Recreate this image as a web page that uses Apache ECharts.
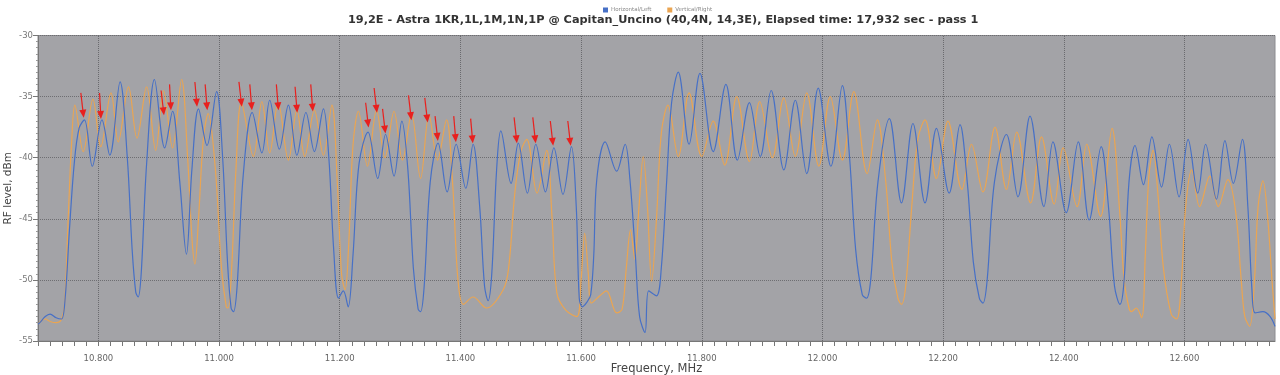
<!DOCTYPE html>
<html>
<head>
<meta charset="utf-8">
<script src="https://cdn.jsdelivr.net/npm/echarts@6/dist/echarts.min.js"></script>
<style>
html,body{margin:0;padding:0;background:#fff;}
#chart{width:1280px;height:375px;}
</style>
</head>
<body>
<div id="chart"></div>
<script>
const titleText = "19,2E - Astra 1KR,1L,1M,1N,1P @ Capitan_Uncino (40,4N, 14,3E), Elapsed time: 17,932 sec - pass 1";
const seriesNames = ["Horizontal/Left", "Vertical/Right"];
const freqMin = 10700, freqMax = 12750;
const majorTicks = [10800, 11000, 11200, 11400, 11600, 11800, 12000, 12200, 12400, 12600];
const levelMin = -55, levelMax = -30, levelStep = 5;

// Horizontal/Left trace: [frequency MHz, level dBm]
const horizontalTrace = [
[10700,-53.6],[10703,-53.5],[10712,-53.0],[10720,-52.8],[10730,-53.1],[10739,-53.2],[10745,-51.5],[10752,-46],[10760,-40.5],[10768,-37.6],[10777,-36.9],[10790,-40.7],[10806,-36.9],[10819,-39.8],[10836,-33.8],[10848,-40],[10856,-47.5],[10862,-51.0],[10866,-51.4],[10871,-49.5],[10880,-40.5],[10893,-33.6],[10910,-39.2],[10923,-36.2],[10935,-42],[10946,-47.9],[10955,-41],[10966,-36.0],[10980,-39.0],[10996,-34.6],[11006,-40],[11014,-48.5],[11020,-52.3],[11024,-52.6],[11030,-50.5],[11040,-41.5],[11055,-36.3],[11071,-39.6],[11084,-35.3],[11100,-39.3],[11115,-35.7],[11129,-39.8],[11144,-36.3],[11158,-39.5],[11173,-36.0],[11182,-40],[11190,-47.5],[11198,-51.5],[11206,-50.9],[11214,-52.2],[11222,-48],[11232,-40.5],[11247,-37.9],[11263,-41.7],[11276,-38.1],[11290,-41.5],[11303,-37.0],[11313,-41],[11322,-49],[11330,-52.4],[11334,-52.6],[11340,-50.5],[11350,-42],[11363,-38.8],[11378,-42.8],[11393,-38.9],[11409,-42.5],[11421,-38.9],[11432,-44],[11440,-50.5],[11446,-51.7],[11452,-49.5],[11460,-41],[11467,-37.8],[11484,-42.1],[11496,-38.8],[11511,-42.9],[11525,-38.9],[11541,-42.8],[11555,-39.2],[11570,-43.0],[11584,-39.1],[11592,-44],[11597,-51.5],[11602,-52.2],[11610,-51.8],[11616,-51.2],[11621,-48],[11626,-41.8],[11640,-38.7],[11659,-41.1],[11673,-38.9],[11681,-41.8],[11690,-48],[11697,-53],[11706,-54.3],[11712,-50.9],[11725,-51.3],[11733,-49],[11742,-41.8],[11750,-35.5],[11761,-33.0],[11779,-38.9],[11797,-33.1],[11819,-39.5],[11840,-34.0],[11859,-40.2],[11879,-35.5],[11897,-39.9],[11915,-34.5],[11936,-41.0],[11955,-35.3],[11974,-41.3],[11993,-34.3],[12014,-40.7],[12033,-34.1],[12045,-40],[12055,-47.5],[12066,-51.2],[12073,-51.5],[12080,-50],[12092,-42],[12111,-36.8],[12131,-43.7],[12150,-37.2],[12170,-43.7],[12189,-37.6],[12210,-42.9],[12228,-37.3],[12240,-42],[12250,-48.5],[12260,-51.5],[12266,-51.9],[12273,-50],[12285,-42],[12305,-38.1],[12324,-43.2],[12344,-36.6],[12367,-44.0],[12382,-38.7],[12404,-44.5],[12424,-38.7],[12442,-45.1],[12462,-39.1],[12474,-44],[12484,-50.5],[12493,-52.0],[12500,-50],[12508,-42],[12518,-39.0],[12532,-42.2],[12546,-38.3],[12562,-42.4],[12575,-38.9],[12591,-43.2],[12606,-38.5],[12622,-42.9],[12635,-38.9],[12653,-43.4],[12667,-38.6],[12681,-42.1],[12696,-38.5],[12705,-44],[12712,-51],[12717,-52.7],[12730,-52.6],[12742,-53],[12750,-53.8]
];

// Vertical/Right trace: [frequency MHz, level dBm]
const verticalTrace = [
[10700,-53.6],[10712,-53.2],[10720,-53.4],[10730,-53.5],[10738,-53.3],[10744,-52],[10750,-45],[10756,-38.5],[10761,-35.7],[10775,-39.5],[10791,-35.2],[10804,-39.1],[10821,-34.7],[10833,-38.7],[10850,-34.2],[10864,-38.4],[10880,-34.2],[10895,-39.4],[10908,-34.5],[10923,-39.2],[10938,-33.6],[10948,-40],[10955,-46.5],[10960,-48.7],[10966,-45],[10974,-38.5],[10982,-36.4],[10994,-41],[11004,-49],[11012,-52.2],[11015,-52.3],[11021,-49],[11028,-41],[11037,-35.5],[11057,-39.9],[11071,-35.4],[11084,-39.6],[11098,-35.5],[11115,-40.2],[11129,-36.1],[11142,-39.9],[11158,-36.1],[11173,-39.8],[11187,-35.7],[11196,-42],[11203,-49.5],[11209,-50.8],[11215,-47],[11222,-39],[11231,-36.2],[11246,-40.7],[11261,-36.1],[11275,-40.0],[11290,-36.2],[11304,-40.2],[11319,-36.4],[11334,-41.7],[11348,-36.5],[11362,-40.2],[11377,-36.9],[11387,-42],[11396,-50],[11405,-52.0],[11421,-51.4],[11443,-52.3],[11471,-50.8],[11480,-49],[11490,-43],[11500,-39.5],[11510,-38.5],[11527,-42.9],[11543,-39.4],[11552,-45],[11560,-51.1],[11575,-52.5],[11593,-53.0],[11600,-50],[11606,-46.2],[11612,-49.5],[11617,-51.9],[11631,-51.3],[11642,-50.9],[11659,-52.7],[11668,-52.4],[11675,-49],[11682,-45.9],[11689,-48.3],[11696,-44],[11703,-39.9],[11710,-44],[11717,-50.1],[11725,-45],[11733,-38],[11744,-35.7],[11761,-39.9],[11779,-34.7],[11800,-39.9],[11819,-37.0],[11838,-40.6],[11858,-35.0],[11879,-40.3],[11896,-35.4],[11917,-40.0],[11936,-35.1],[11955,-39.9],[11974,-34.7],[11994,-40.7],[12013,-35.0],[12033,-40.2],[12052,-34.6],[12074,-41.3],[12091,-36.9],[12105,-42],[12115,-48.5],[12125,-51.5],[12131,-52.0],[12138,-50.5],[12148,-44],[12158,-38.5],[12170,-36.9],[12189,-41.7],[12208,-37.0],[12231,-42.6],[12247,-38.9],[12266,-42.8],[12286,-37.5],[12305,-42.6],[12322,-37.9],[12345,-43.7],[12363,-38.3],[12384,-43.8],[12399,-39.2],[12422,-44.0],[12438,-38.9],[12461,-44.8],[12480,-37.6],[12492,-44],[12500,-50],[12508,-52.3],[12512,-52.6],[12520,-52.3],[12529,-53.1],[12535,-48],[12541,-41.5],[12548,-39.4],[12556,-43],[12565,-49],[12578,-52.8],[12587,-53.2],[12595,-50],[12602,-44],[12612,-41.0],[12625,-44.0],[12642,-41.5],[12656,-44.0],[12672,-41.8],[12685,-44.5],[12694,-50],[12700,-53],[12708,-53.8],[12716,-50],[12722,-44],[12730,-41.9],[12738,-45],[12745,-50],[12750,-53.2]
];

// Red annotation arrows: tail -> tip, [frequency MHz, level dBm]
const arrowTails = [[10771,-34.7],[10802,-34.7],[10904,-34.5],[10918,-34.0],[10960,-33.8],[10977,-34.0],[11033,-33.8],[11051,-34.0],[11095,-34.0],[11126,-34.2],[11152,-34.0],[11243,-35.5],[11257,-34.3],[11271,-36.0],[11314,-34.9],[11341,-35.1],[11358,-36.6],[11389,-36.6],[11417,-36.8],[11489,-36.7],[11520,-36.7],[11549,-37.0],[11578,-37.0]];
const arrowTips = [[10775,-36.4],[10804,-36.5],[10908,-36.2],[10920,-35.8],[10963,-35.5],[10980,-35.8],[11037,-35.5],[11054,-35.8],[11098,-35.8],[11129,-36.0],[11155,-35.9],[11247,-37.2],[11261,-36.0],[11275,-37.7],[11318,-36.6],[11345,-36.8],[11362,-38.3],[11392,-38.4],[11420,-38.5],[11493,-38.5],[11524,-38.5],[11553,-38.7],[11582,-38.7]];

const minorTicks = [];
for (let f = freqMin; f <= freqMax; f += 20) minorTicks.push(f);

const chart = echarts.init(document.getElementById('chart'), null, {renderer: 'canvas'});
const blue = '#4770c6', orange = '#eaa552';
const fmtFreq = v => (v / 1000).toFixed(3);

chart.setOption({
  animation: false,
  backgroundColor: '#ffffff',
  textStyle: {fontFamily: 'DejaVu Sans'},
  title: {
    text: titleText, left: 343, top: 10,
    textStyle: {fontSize: 11.3, fontWeight: 'bold', color: '#333', fontFamily: 'DejaVu Sans'}
  },
  legend: {
    data: seriesNames, top: 2, left: 598,
    icon: 'rect', itemWidth: 5, itemHeight: 5, itemGap: 16,
    textStyle: {fontSize: 5.5, color: '#8a8a8a', padding: [0, 0, 0, -2]}
  },
  grid: {
    left: 38, right: 5, top: 35.5, bottom: 34,
    outerBoundsMode: 'none', containLabel: false,
    show: true, backgroundColor: '#a3a3a7', borderColor: '#8c8c90', borderWidth: 1
  },
  xAxis: {
    type: 'value', min: freqMin, max: freqMax,
    name: 'Frequency, MHz', nameLocation: 'middle', nameGap: 22, nameMoveOverlap: false,
    nameTextStyle: {fontSize: 11.5, color: '#444'},
    axisLine: {show: true, onZero: false, lineStyle: {color: '#777'}},
    axisTick: {show: true, customValues: minorTicks, length: 5, lineStyle: {color: '#777'}},
    axisLabel: {customValues: majorTicks, formatter: fmtFreq, fontSize: 8.5, color: '#666', margin: 13},
    splitLine: {show: false}
  },
  yAxis: {
    type: 'value', min: levelMin, max: levelMax, interval: levelStep,
    name: 'RF level, dBm', nameLocation: 'middle', nameGap: 24, nameRotate: 90, nameMoveOverlap: false,
    nameTextStyle: {fontSize: 10.5, color: '#444'},
    axisLine: {show: true, lineStyle: {color: '#777'}},
    axisTick: {show: true, length: 5, lineStyle: {color: '#777'}},
    minorTick: {show: true, splitNumber: 10, length: 2, lineStyle: {color: '#999'}},
    axisLabel: {fontSize: 8.5, color: '#777', margin: 5},
    splitLine: {show: true, lineStyle: {color: '#6e6e72', type: 'dotted', width: 1}}
  },
  series: [
    {
      name: seriesNames[1], type: 'line', data: verticalTrace,
      smooth: 0.35, showSymbol: false, symbol: 'none', z: 2,
      lineStyle: {color: orange, width: 1.2}, itemStyle: {color: orange},
      markLine: {
        silent: true, symbol: 'none', z: 1,
        label: {show: false},
        lineStyle: {color: '#6a6a6e', type: 'dotted', width: 1},
        data: majorTicks.map(v => ({xAxis: v}))
      }
    },
    {
      name: seriesNames[0], type: 'line', data: horizontalTrace,
      smooth: 0.35, showSymbol: false, symbol: 'none', z: 3,
      lineStyle: {color: blue, width: 1.2}, itemStyle: {color: blue},
      markLine: {
        silent: true, z: 5,
        symbol: ['none', 'triangle'], symbolSize: [7, 8],
        label: {show: false},
        lineStyle: {color: '#e8201e', type: 'solid', width: 1.2},
        data: arrowTails.map((t, i) => [{coord: t}, {coord: arrowTips[i]}])
      }
    }
  ]
});
</script>
</body>
</html>
